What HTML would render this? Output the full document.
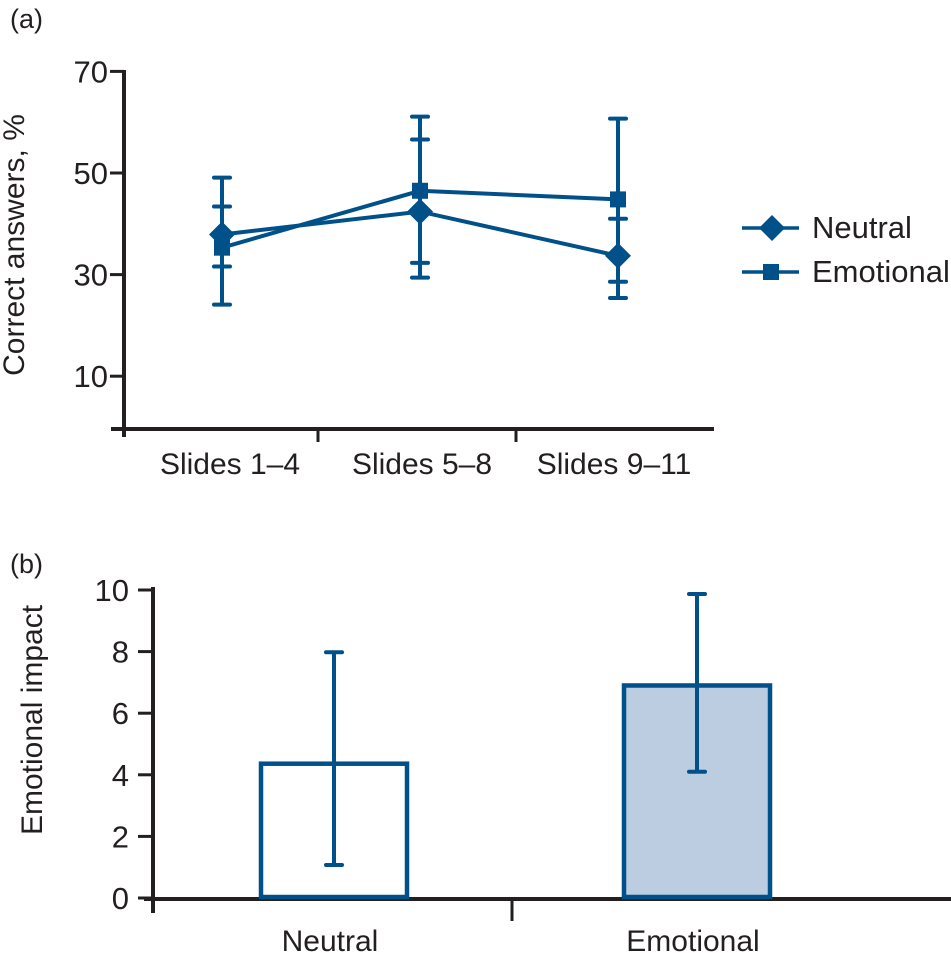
<!DOCTYPE html>
<html><head><meta charset="utf-8"><style>
html,body{margin:0;padding:0;background:#fff;}
svg{display:block;font-family:"Liberation Sans Narrow","Liberation Sans",sans-serif;}
text{fill:#231f20;}
</style></head><body>
<svg id="fig" width="951" height="953" viewBox="0 0 951 953">
<text x="10" y="28" font-size="27">(a)</text>
<text x="10" y="573" font-size="27">(b)</text>
<text transform="translate(24,245) rotate(-90)" text-anchor="middle" font-size="30">Correct answers, %</text>
<text transform="translate(42,720) rotate(-90)" text-anchor="middle" font-size="30">Emotional impact</text>
<g id="chartA"></g>
<g id="chartB"></g>
<g>
 <g>
  <line x1="742" y1="228" x2="799" y2="228" stroke="#00508a" stroke-width="3.5"/>
  <polygon points="772,215 785,228 772,241 759,228" fill="#00508a"/>
  <text x="812" y="238" font-size="31">Neutral</text>
 </g>
 <g>
  <line x1="742" y1="272" x2="799" y2="272" stroke="#00508a" stroke-width="3.5"/>
  <rect x="763" y="264" width="16" height="16" fill="#00508a"/>
  <text x="812" y="282" font-size="31">Emotional</text>
 </g>
</g>
</svg>
<script>
const NS="http://www.w3.org/2000/svg";
const BLUE="#00508a";
// Panel (a) data
const categoriesA=["Slides 1–4","Slides 5–8","Slides 9–11"];
const neutralVals=[37.9,42.4,33.7];
const neutralLow=[31.6,29.4,25.4];
const neutralHigh=[43.4,56.6,41.0];
const emotionalVals=[35.3,46.5,44.8];
const emotionalLow=[24.1,32.3,28.6];
const emotionalHigh=[49.1,61.1,60.7];
const yTicksA=[10,30,50,70];
// Panel (b) data
const categoriesB=["Neutral","Emotional"];
const impactVals=[4.36,6.9];
const impactLow=[1.07,4.1];
const impactHigh=[7.98,9.87];
const yTicksB=[0,2,4,6,8,10];

function mk(tag,attrs,parent){const e=document.createElementNS(NS,tag);for(const k in attrs)e.setAttribute(k,attrs[k]);parent.appendChild(e);return e;}

// ---- Chart A ----
const gA=document.getElementById('chartA');
const yA=v=>427-(v)*5.08;
const xA=i=>222+i*198;
mk('line',{x1:124,y1:70,x2:124,y2:437,stroke:'#231f20','stroke-width':4},gA);
mk('line',{x1:111,y1:429,x2:714,y2:429,stroke:'#231f20','stroke-width':4},gA);
yTicksA.forEach(t=>{
  const l=mk('line',{x1:110,y1:yA(t),x2:124,y2:yA(t),stroke:'#231f20','stroke-width':3},gA);
  
  const tx=mk('text',{x:108,y:yA(t)+11,'text-anchor':'end','font-size':31},gA);
  tx.textContent=t;
  
  
});
[0,1].forEach(i=>{
  const xt=(xA(i)+xA(i+1))/2-3;
  const l=mk('line',{x1:xt,y1:429,x2:xt,y2:442,stroke:'#231f20','stroke-width':3},gA);
  
});
categoriesA.forEach((c,i)=>{
  const tx=mk('text',{x:xA(i)+8-i*6,y:474,'text-anchor':'middle','font-size':30},gA);
  tx.textContent=c;
  
  
});
function errBar(g,x,lo,hi,ys,name){
  const e=mk('g',{},g);
  
  
  mk('line',{x1:x,y1:ys(lo),x2:x,y2:ys(hi),stroke:BLUE,'stroke-width':4},e);
  mk('line',{x1:x-8,y1:ys(lo),x2:x+8,y2:ys(lo),stroke:BLUE,'stroke-width':4,'stroke-linecap':'round'},e);
  mk('line',{x1:x-8,y1:ys(hi),x2:x+8,y2:ys(hi),stroke:BLUE,'stroke-width':4,'stroke-linecap':'round'},e);
}
categoriesA.forEach((c,i)=>{
  errBar(gA,xA(i),neutralLow[i],neutralHigh[i],yA,'error-bar-neutral');
  errBar(gA,xA(i),emotionalLow[i],emotionalHigh[i],yA,'error-bar-emotional');
});
const lnN=mk('polyline',{points:neutralVals.map((v,i)=>xA(i)+','+yA(v)).join(' '),fill:'none',stroke:BLUE,'stroke-width':4},gA);


const lnE=mk('polyline',{points:emotionalVals.map((v,i)=>xA(i)+','+yA(v)).join(' '),fill:'none',stroke:BLUE,'stroke-width':4},gA);


neutralVals.forEach((v,i)=>{
  const x=xA(i),y=yA(v);
  const p=mk('polygon',{points:`${x},${y-13} ${x+13},${y} ${x},${y+13} ${x-13},${y}`,fill:BLUE},gA);
  
  
});
emotionalVals.forEach((v,i)=>{
  const x=xA(i),y=yA(v);
  const r=mk('rect',{x:x-8,y:y-8,width:16,height:16,fill:BLUE},gA);
  
  
});

// ---- Chart B ----
const gB=document.getElementById('chartB');
const yB=v=>898-v*30.8;
const xB=i=>334+i*363;
mk('line',{x1:153,y1:587,x2:153,y2:913,stroke:'#231f20','stroke-width':4},gB);
mk('line',{x1:144,y1:899,x2:951,y2:899,stroke:'#231f20','stroke-width':4},gB);
mk('line',{x1:512,y1:899,x2:512,y2:921,stroke:'#231f20','stroke-width':3},gB);
yTicksB.forEach(t=>{
  const l=mk('line',{x1:138,y1:yB(t),x2:153,y2:yB(t),stroke:'#231f20','stroke-width':3},gB);
  
  const tx=mk('text',{x:129,y:yB(t)+11,'text-anchor':'end','font-size':31},gB);
  tx.textContent=t;
  
  
});
const fills=['#ffffff','#bccce1'];
impactVals.forEach((v,i)=>{
  const r=mk('rect',{x:xB(i)-73,y:yB(v),width:146,height:yB(0)-yB(v)-1,fill:fills[i],stroke:BLUE,'stroke-width':4.5},gB);
  
  
  errBar(gB,xB(i),impactLow[i],impactHigh[i],yB,'error-bar-'+categoriesB[i].toLowerCase());
  const tx=mk('text',{x:xB(i)-4,y:951,'text-anchor':'middle','font-size':30},gB);
  tx.textContent=categoriesB[i];
  
  
});
</script>
</body></html>
